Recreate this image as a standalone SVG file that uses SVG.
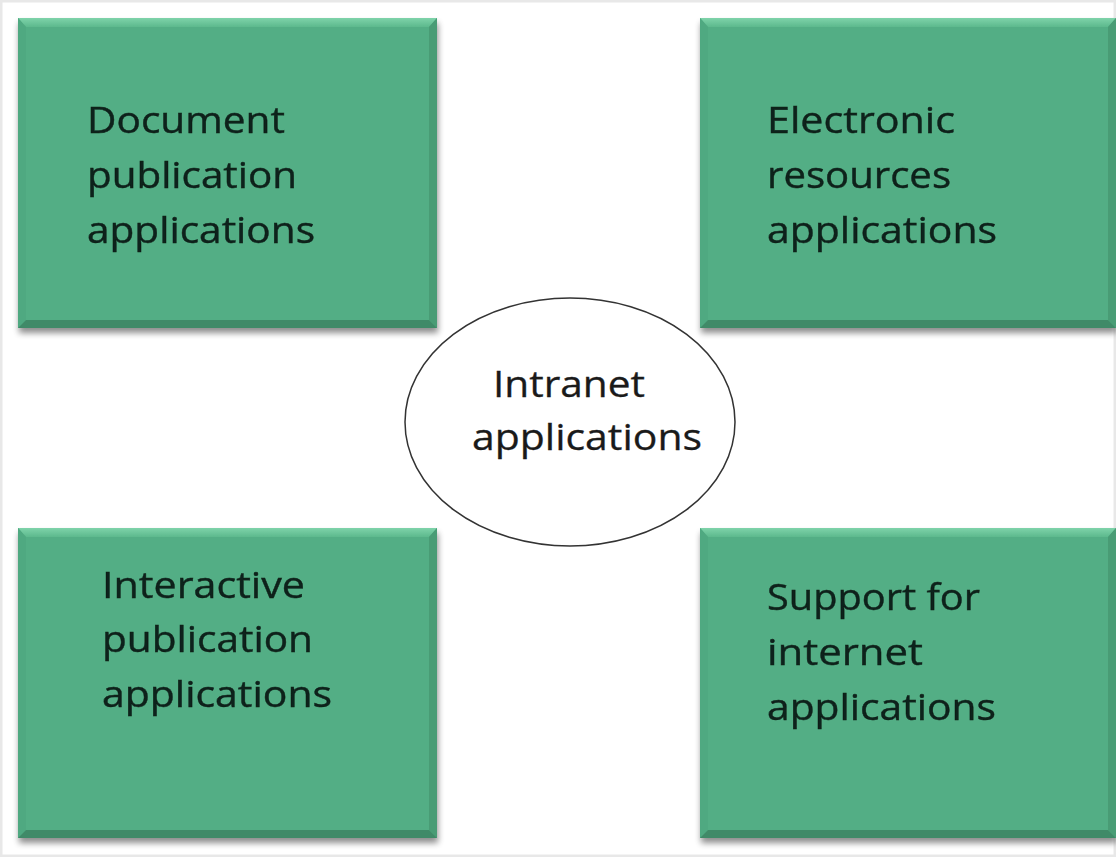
<svg xmlns="http://www.w3.org/2000/svg" width="1116" height="857" viewBox="0 0 1116 857">
<defs>
<filter id="sh" x="-5%" y="-5%" width="115%" height="115%">
<feGaussianBlur in="SourceAlpha" stdDeviation="3"/>
<feOffset dx="1" dy="5" result="b"/>
<feComponentTransfer><feFuncA type="linear" slope="0.45"/></feComponentTransfer>
<feMerge><feMergeNode/><feMergeNode in="SourceGraphic"/></feMerge>
</filter>
<linearGradient id="top" x1="0" y1="0" x2="0" y2="1">
<stop offset="0" stop-color="#7fd3aa"/><stop offset="1" stop-color="#5cb98d"/>
</linearGradient>
</defs>
<style>
.box{fill:#53ae85;}
.bevT{fill:url(#top);}
.bevL{fill:#50a981;}
.bevR{fill:#489c75;}
.bevB{fill:#3f8a67;}
.lbl{font-family:"Open Sans","Liberation Sans",sans-serif;font-size:36px;fill:#10201a;stroke:#10201a;stroke-width:0.4;}
.ell{fill:#ffffff;stroke:#333333;stroke-width:1.5;}
.elbl{font-family:"Open Sans","Liberation Sans",sans-serif;font-size:36px;fill:#1a1a1a;stroke:#1a1a1a;stroke-width:0.3;}
</style>
<rect x="0" y="0" width="1116" height="857" fill="#ffffff"/>
<rect x="1" y="1" width="1114" height="855" fill="none" stroke="#e8e8e8" stroke-width="3"/>

<g id="node-document" filter="url(#sh)">
<rect class="box" x="18" y="18" width="419" height="310"/>
<polygon class="bevT" points="18,18 437,18 429,27 26,27"/>
<polygon class="bevL" points="18,18 26,27 26,320 18,328"/>
<polygon class="bevR" points="437,18 429,27 429,320 437,328"/>
<polygon class="bevB" points="18,328 26,320 429,320 437,328"/>
<text class="lbl" x="87" y="133" textLength="198" lengthAdjust="spacingAndGlyphs">Document</text>
<text class="lbl" x="87" y="188" textLength="210" lengthAdjust="spacingAndGlyphs">publication</text>
<text class="lbl" x="87" y="243" textLength="228" lengthAdjust="spacingAndGlyphs">applications</text>
</g>

<g id="node-electronic" filter="url(#sh)">
<rect class="box" x="700" y="18" width="416" height="310"/>
<polygon class="bevT" points="700,18 1116,18 1108,27 708,27"/>
<polygon class="bevL" points="700,18 708,27 708,320 700,328"/>
<polygon class="bevR" points="1116,18 1108,27 1108,320 1116,328"/>
<polygon class="bevB" points="700,328 708,320 1108,320 1116,328"/>
<text class="lbl" x="767" y="133" textLength="188" lengthAdjust="spacingAndGlyphs">Electronic</text>
<text class="lbl" x="767" y="188" textLength="184" lengthAdjust="spacingAndGlyphs">resources</text>
<text class="lbl" x="767" y="243" textLength="230" lengthAdjust="spacingAndGlyphs">applications</text>
</g>

<g id="node-interactive" filter="url(#sh)">
<rect class="box" x="18" y="528" width="419" height="310"/>
<polygon class="bevT" points="18,528 437,528 429,537 26,537"/>
<polygon class="bevL" points="18,528 26,537 26,830 18,838"/>
<polygon class="bevR" points="437,528 429,537 429,830 437,838"/>
<polygon class="bevB" points="18,838 26,830 429,830 437,838"/>
<text class="lbl" x="102" y="598" textLength="203" lengthAdjust="spacingAndGlyphs">Interactive</text>
<text class="lbl" x="102" y="652" textLength="211" lengthAdjust="spacingAndGlyphs">publication</text>
<text class="lbl" x="102" y="707" textLength="230" lengthAdjust="spacingAndGlyphs">applications</text>
</g>

<g id="node-support" filter="url(#sh)">
<rect class="box" x="700" y="528" width="416" height="310"/>
<polygon class="bevT" points="700,528 1116,528 1108,537 708,537"/>
<polygon class="bevL" points="700,528 708,537 708,830 700,838"/>
<polygon class="bevR" points="1116,528 1108,537 1108,830 1116,838"/>
<polygon class="bevB" points="700,838 708,830 1108,830 1116,838"/>
<text class="lbl" x="767" y="610" textLength="213" lengthAdjust="spacingAndGlyphs">Support for</text>
<text class="lbl" x="767" y="665" textLength="156" lengthAdjust="spacingAndGlyphs">internet</text>
<text class="lbl" x="767" y="720" textLength="229" lengthAdjust="spacingAndGlyphs">applications</text>
</g>

<g id="node-intranet">
<ellipse class="ell" cx="570" cy="422" rx="165" ry="124"/>
<text class="elbl" x="493" y="397" textLength="152" lengthAdjust="spacingAndGlyphs">Intranet</text>
<text class="elbl" x="472" y="450" textLength="230" lengthAdjust="spacingAndGlyphs">applications</text>
</g>

<g id="connectors"></g>
</svg>
